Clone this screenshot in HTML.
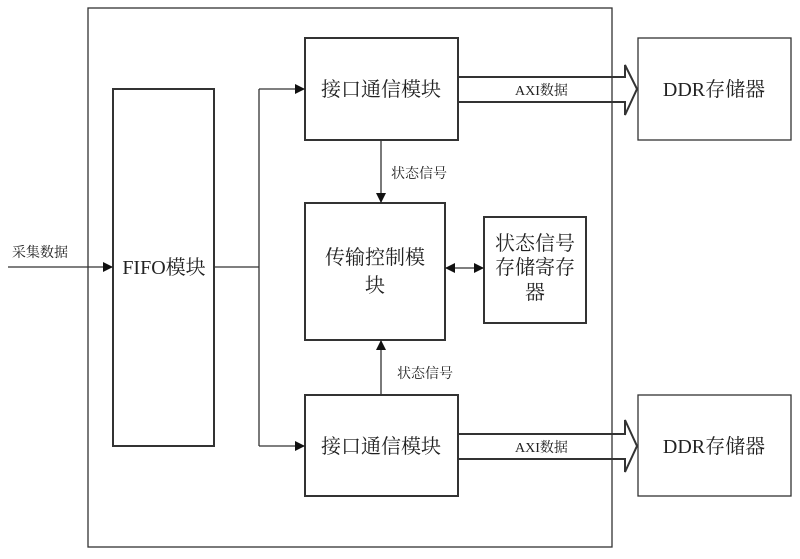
<!DOCTYPE html>
<html><head><meta charset="utf-8"><style>
body{margin:0;background:#fff}
svg text{font-family:"Liberation Serif","Noto Serif CJK SC",serif;fill:#222}
</style></head><body>
<svg width="800" height="554" viewBox="0 0 800 554" xmlns="http://www.w3.org/2000/svg">
<defs>
<marker id="a" markerWidth="10" markerHeight="10" refX="9" refY="5" orient="auto" markerUnits="userSpaceOnUse"><path d="M0,0 L10,5 L0,10 z" fill="#111"/></marker>
<marker id="b" markerWidth="10" markerHeight="10" refX="1" refY="5" orient="auto" markerUnits="userSpaceOnUse"><path d="M10,0 L0,5 L10,10 z" fill="#111"/></marker>
</defs>
<g fill="none" stroke="#333" stroke-width="1.3">
<rect x="88" y="8" width="524" height="539"/>
<rect x="113" y="89" width="101" height="357" stroke-width="2"/>
<rect x="305" y="38" width="153" height="102" stroke-width="2"/>
<rect x="305" y="395" width="153" height="101" stroke-width="2"/>
<rect x="305" y="203" width="140" height="137" stroke-width="2"/>
<rect x="484" y="217" width="102" height="106" stroke-width="2"/>
<rect x="638" y="38" width="153" height="102"/>
<rect x="638" y="395" width="153" height="101"/>
<path d="M8,267 H112" marker-end="url(#a)"/>
<path d="M214,267 H259"/>
<path d="M259,89 V446"/>
<path d="M259,89 H304" marker-end="url(#a)"/>
<path d="M259,446 H304" marker-end="url(#a)"/>
<path d="M381,140 V202" marker-end="url(#a)"/>
<path d="M381,396 V341" marker-end="url(#a)"/>
<path d="M446,268 H483" marker-start="url(#b)" marker-end="url(#a)"/>
<path d="M458,77 H625 V65 L637,89 L625,115 V102 H458" stroke-width="2"/>
<path d="M458,434 H625 V420 L637,446 L625,472 V459 H458" stroke-width="2"/>
</g>
<g font-size="20" text-anchor="middle">
<text x="381" y="96">接口通信模块</text>
<text x="381" y="453">接口通信模块</text>
<text x="164" y="274">FIFO模块</text>
<text x="375" y="264">传输控制模</text>
<text x="375" y="292">块</text>
<text x="535" y="250">状态信号</text>
<text x="535" y="274">存储寄存</text>
<text x="535" y="299">器</text>
<text x="714" y="96">DDR存储器</text>
<text x="714" y="453">DDR存储器</text>
</g>
<g font-size="14">
<text x="12" y="257">采集数据</text>
<text x="391" y="178">状态信号</text>
<text x="397" y="378">状态信号</text>
<text x="515" y="95">AXI数据</text>
<text x="515" y="452">AXI数据</text>
</g>
</svg>
</body></html>
